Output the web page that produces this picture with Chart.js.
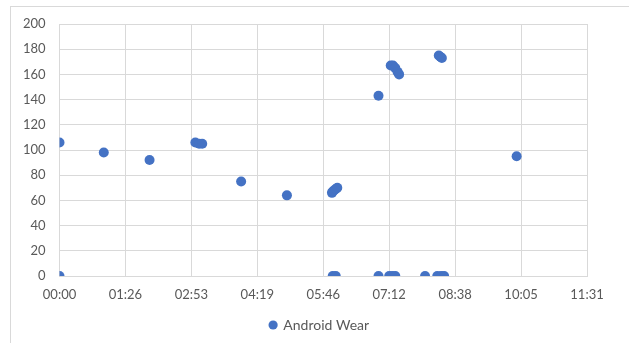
<!DOCTYPE html>
<html>
<head>
<meta charset="utf-8">
<script src="https://cdn.jsdelivr.net/npm/chart.js@4/dist/chart.umd.min.js"></script>
<style>
  html, body { margin: 0; padding: 0; background: #ffffff; }
  #wrap { position: relative; width: 629px; height: 343px; overflow: hidden; }
  #frame { position: absolute; left: 10px; top: 6px; width: 640px; height: 360px;
           border-top: 1px solid #d9d9d9; border-left: 1px solid #d9d9d9; }
  canvas { position: absolute; left: 0; top: 0; }
</style>
</head>
<body>
<div id="wrap">
  <div id="frame"></div>
  <canvas id="c" width="629" height="343"></canvas>
</div>
<script>
// Heart-rate readings over the morning, time given in minutes after midnight
const seriesName = 'Android Wear';
const wearMinutes = [0, 0, 58, 118, 178, 183, 187, 238, 298,
                     357, 358, 360, 362, 364, 358, 362,
                     418, 418, 432, 436, 440, 434, 437, 440, 443, 445,
                     479, 495, 500, 504, 497, 499, 501, 599];
const wearValues  = [106, 0, 98, 92, 106, 105, 105, 75, 64,
                     66, 67, 68, 69, 70, 0, 0,
                     143, 0, 0, 0, 0, 167, 167, 165, 162, 160,
                     0, 0, 0, 0, 175, 174, 173, 95];

// Axis ticks: x every 0.06 day (86.4 minutes)
const xTickMinutes = [0, 86.4, 172.8, 259.2, 345.6, 432, 518.4, 604.8, 691.2];
const xTickLabels  = ['00:00', '01:26', '02:53', '04:19', '05:46', '07:12', '08:38', '10:05', '11:31'];
const yTickValues  = [0, 20, 40, 60, 80, 100, 120, 140, 160, 180, 200];

const points = wearMinutes.map((m, i) => ({ x: m, y: wearValues[i] }));
const blue = '#4472c4';
const gridColor = '#d9d9d9';
const labelColor = '#595959';
const font = { family: 'Lato, "Open Sans", sans-serif', size: 13 };

new Chart(document.getElementById('c'), {
  type: 'scatter',
  data: {
    datasets: [{
      label: seriesName,
      data: points,
      backgroundColor: blue,
      borderColor: blue,
      pointRadius: 5,
      pointHoverRadius: 5,
      borderWidth: 0
    }]
  },
  options: {
    responsive: false,
    animation: false,
    devicePixelRatio: 1,
    layout: { padding: { left: 10, top: 24, right: 0, bottom: 1 } },
    plugins: {
      tooltip: { enabled: false },
      legend: {
        position: 'bottom',
        labels: {
          usePointStyle: true,
          pointStyle: 'circle',
          boxWidth: 6.5,
          boxHeight: 6.5,
          color: labelColor,
          font: { family: font.family, size: 14 },
          padding: 10
        }
      }
    },
    scales: {
      x: {
        type: 'linear',
        min: 0,
        max: 691.2,
        afterBuildTicks: s => { s.ticks = xTickMinutes.map(v => ({ value: v })); },
        afterFit: s => { s.height = 32; },
        ticks: {
          color: labelColor,
          font: font,
          padding: 11,
          maxRotation: 0,
          autoSkip: false,
          callback: (v, i) => xTickLabels[i]
        },
        grid: { color: gridColor, drawTicks: false },
        border: { color: gridColor }
      },
      y: {
        min: 0,
        max: 200,
        afterBuildTicks: s => { s.ticks = yTickValues.map(v => ({ value: v })); },
        afterFit: s => { s.width = 49.5; },
        ticks: { color: labelColor, font: font, padding: 14 },
        grid: { color: gridColor, drawTicks: false },
        border: { display: false }
      },
      // empty right-hand margin so the legend stays centred on the whole frame
      yRight: {
        position: 'right',
        min: 0,
        max: 200,
        afterFit: s => { s.width = 42; },
        ticks: { display: false },
        grid: { display: false, drawTicks: false },
        border: { display: false }
      }
    }
  }
});
</script>
</body>
</html>
